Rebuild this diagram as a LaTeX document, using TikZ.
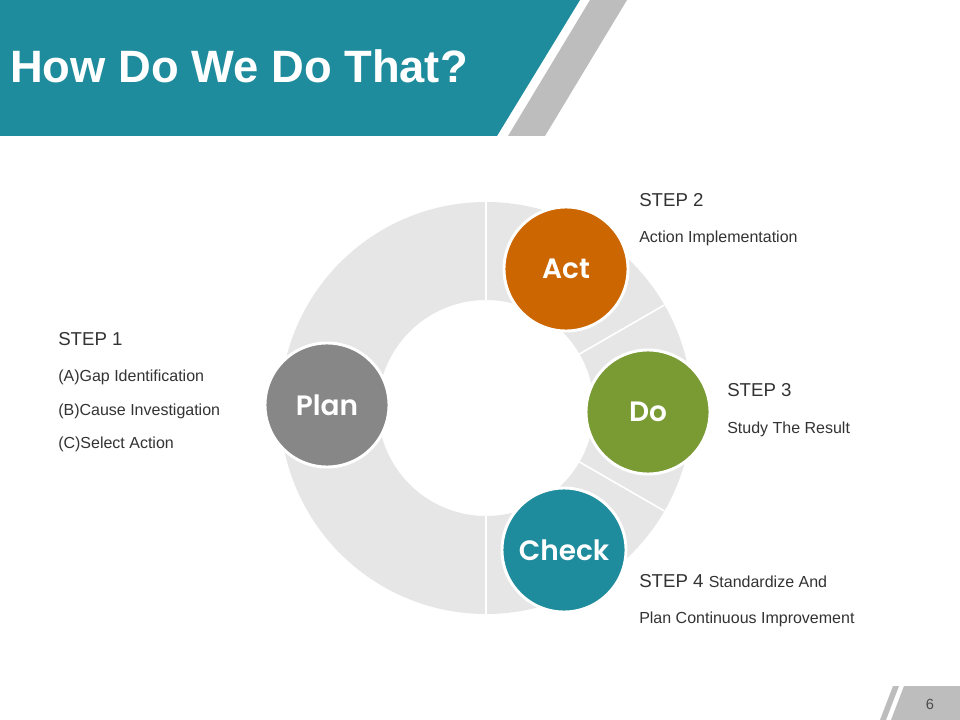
\documentclass[tikz,border=0pt]{standalone}
\usepackage{fontspec}
\setmainfont{Liberation Sans}
\newfontfamily\circfont{Poppins}[BoldFont={* SemiBold}]
\begin{document}
\begin{tikzpicture}[x=0.75pt,y=-0.75pt,
  stepcirc/.style={circle,draw=white,line width=2.2pt,minimum size=93pt,inner sep=0pt,text=white,font=\circfont\bfseries\fontsize{21}{24}\selectfont},
  steptitle/.style={anchor=west,inner sep=0pt,text=black!80,font=\fontsize{14}{16}\selectfont},
  stepsub/.style={anchor=west,inner sep=0pt,text=black!80,font=\fontsize{12}{14}\selectfont},
  divider/.style={white,line width=1.2pt}]
\definecolor{teal1}{HTML}{1E8C9C}
\definecolor{actc}{HTML}{CC6600}
\definecolor{doc}{HTML}{7A9A33}
\definecolor{planc}{HTML}{878787}
\definecolor{ringc}{HTML}{E6E6E6}
\definecolor{stripe}{HTML}{BDBDBD}
\useasboundingbox (0,0) rectangle (960,720);
\fill[white] (0,0) rectangle (960,720);
% header
\fill[teal1] (0,0) -- (580,0) -- (497,136) -- (0,136) -- cycle;
\fill[stripe] (590,0) -- (627,0) -- (545,136) -- (508,136) -- cycle;
\node[anchor=west,text=white,font=\bfseries\fontsize{34}{40}\selectfont,inner sep=0pt] (title) at (10,66) {How Do We Do That?};
% ring
\coordinate (c) at (486,408);
\fill[ringc,even odd rule] (c) circle[radius=206] (c) circle[radius=108];
\draw[divider] (486,300) -- (486,202);
\draw[divider] (486,516) -- (486,614);
\draw[divider] (579.5,354) -- (664.4,305);
\draw[divider] (579.5,462) -- (664.4,511);
% circles
\node[stepcirc,fill=actc] (act) at (566,269) {Act};
\node[stepcirc,fill=doc] (do) at (648,412) {Do};
\node[stepcirc,fill=teal1] (check) at (564,550) {Check};
\node[stepcirc,fill=planc] (plan) at (327,405) {Plan};
% texts
\node[steptitle] (s2) at (639,200) {STEP 2};
\node[stepsub] (s2a) at (639,238) {Action Implementation};
\node[steptitle] (s1) at (58,339) {STEP 1};
\node[stepsub] (s1a) at (58,377) {(A)Gap Identification};
\node[stepsub] (s1b) at (58,411) {(B)Cause Investigation};
\node[stepsub] (s1c) at (58,444) {(C)Select Action};
\node[steptitle] (s3) at (727,390) {STEP 3};
\node[stepsub] (s3a) at (727,429) {Study The Result};
\node[anchor=west,inner sep=0pt,text=black!80] (s4) at (639,581) {\fontsize{14}{16}\selectfont STEP 4 \fontsize{12}{14}\selectfont Standardize And};
\node[stepsub] (s4a) at (639,619) {Plan Continuous Improvement};
% page number
\fill[stripe] (893,686) -- (899,686) -- (886,720) -- (880,720) -- cycle;
\fill[stripe] (904,686) -- (960,686) -- (960,720) -- (891,720) -- cycle;
\node[text=black!70,font=\fontsize{11}{13}\selectfont] (pg) at (930,704) {6};
\end{tikzpicture}
\end{document}
